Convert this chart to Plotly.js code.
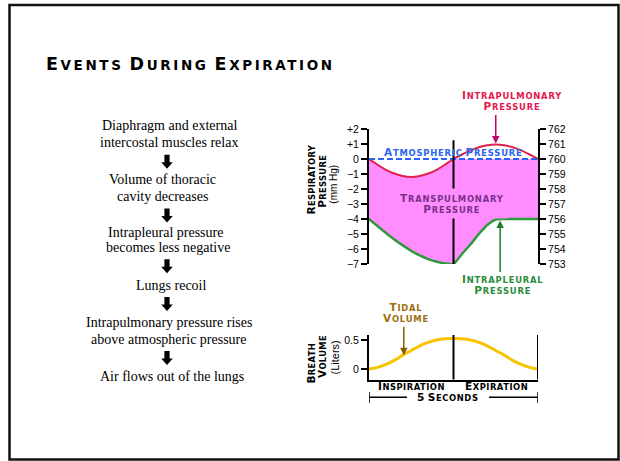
<!DOCTYPE html>
<html><head><meta charset="utf-8">
<script src="https://cdn.plot.ly/plotly-3.0.1.min.js"></script>
<style>html,body{margin:0;padding:0;background:#fff}#chart{width:620px;height:461px}</style>
</head><body><div id="chart"></div>
<script>
// ---------- data ----------
const time = [0,0.25,0.5,0.75,1,1.25,1.5,1.75,2,2.25,2.5,2.75,3,3.25,3.5,3.75,4,4.25,4.5,4.75,5];
const intrapulmonary = [0,-0.37,-0.72,-0.97,-1.14,-1.2,-1.14,-0.97,-0.72,-0.37,0,0.3,0.57,0.78,0.92,0.97,0.92,0.78,0.57,0.3,0];
const intrapleural = [-4,-4.47,-4.93,-5.36,-5.76,-6.12,-6.43,-6.67,-6.85,-6.96,-7,-6.33,-5.7,-5.0,-4.4,-4.03,-4,-4,-4,-4,-4];
const atmosphericTime = [0,5];
const atmospheric = [0,0];
const tidalVolume = [0,0.03,0.08,0.15,0.24,0.32,0.4,0.46,0.5,0.52,0.525,0.52,0.5,0.46,0.4,0.32,0.24,0.15,0.08,0.03,0];
const phaseNames = ['Inspiration','Expiration'];
const phaseBoundary = 2.5;
const cycleEnd = 5;
const pressureTicks = [2,1,0,-1,-2,-3,-4,-5,-6,-7];
const pressureTickText = ['+2','+1','0','\u22121','\u22122','\u22123','\u22124','\u22125','\u22126','\u22127'];
const absoluteTicks = [762,761,760,759,758,757,756,755,754,753];
const volumeTicks = [0,0.5];
const volumeTickText = ['0','0.5'];
const title = 'Events During Expiration';
const steps = [
  ['Diaphragm and external','intercostal muscles relax'],
  ['Volume of thoracic','cavity decreases'],
  ['Intrapleural pressure','becomes less negative'],
  ['Lungs recoil'],
  ['Intrapulmonary pressure rises','above atmospheric pressure'],
  ['Air flows out of the lungs']
];

// ---------- helpers ----------
const W = 620, H = 461;
const px = x => x / W;
const py = y => 1 - y / H;
function sc(str, big, small, ls) {
  return str.split(' ').map(w => {
    let s = `<span style="font-size:${big}px;letter-spacing:${ls}px">${w[0].toUpperCase()}</span>`;
    if (w.length > 1) s += `<span style="font-size:${small}px;letter-spacing:${ls}px">${w.slice(1).toUpperCase()}</span>`;
    return s;
  }).join(' ');
}
const LBL = 'DejaVu Sans';
const annotations = [];
const shapes = [];
function lbl(text, x, y, color, opts) {
  annotations.push(Object.assign({
    xref: 'paper', yref: 'paper', x: px(x), y: py(y), xanchor: 'center', yanchor: 'middle', align: 'center',
    text: text, showarrow: false, font: {family: LBL, size: 8.2, color: color, weight: 'bold'}
  }, opts || {}));
}

// title
lbl(sc(title, 17.5, 13.5, 2.6), 190, 63.5, '#000', {font: {family: 'DejaVu Sans', size: 17.5, color: '#000', weight: 'bold'}});

// left flow text
const lineY = [[125,142.7],[180,196],[232.7,247.7],[285],[322.7,339.3],[376.7]];
const lineX = [[169,169],[162,162],[165,168],[171,171],[168.5,168.5],[172]];
steps.forEach((st, i) => {
  st.forEach((t, j) => {
    lbl(t, lineX[i][j], lineY[i][j], '#000', {font: {family: 'Liberation Serif', size: 14, color: '#000'}});
  });
});
// block arrows between steps
const arrowMid = [161.8, 215.5, 266.3, 304, 358];
arrowMid.forEach(m => {
  const cx = 167, top = m - 7, neck = m + 0.5, tip = m + 7, sw = 2.6, hw = 5.8;
  const pts = [[cx-sw,top],[cx+sw,top],[cx+sw,neck],[cx+hw,neck],[cx,tip],[cx-hw,neck],[cx-sw,neck]];
  shapes.push({type: 'path', xref: 'paper', yref: 'paper', fillcolor: '#000', line: {width: 0},
    path: 'M' + pts.map(p => px(p[0]) + ',' + py(p[1])).join('L') + 'Z'});
});

// border
shapes.push({type: 'rect', xref: 'paper', yref: 'paper', x0: px(9.5), x1: px(618.5), y0: py(459.5), y1: py(5),
  line: {color: '#111', width: 2.5}});

// ---------- traces ----------
const transTop = intrapulmonary.map(v => Math.min(v, 0));
const traces = [
  {x: time, y: transTop, type: 'scatter', mode: 'lines', line: {width: 0, shape: 'spline', smoothing: 0.6}, hoverinfo: 'skip', showlegend: false, xaxis: 'x', yaxis: 'y'},
  {x: time, y: intrapleural, type: 'scatter', mode: 'lines', fill: 'tonexty', fillcolor: '#ff8dff',
   line: {color: '#2f9a3a', width: 2.5, shape: 'spline', smoothing: 0.6}, name: 'Intrapleural', showlegend: false, xaxis: 'x', yaxis: 'y'},
  {x: time, y: intrapulmonary, type: 'scatter', mode: 'lines', line: {color: '#e0204c', width: 2, shape: 'spline', smoothing: 0.6}, name: 'Intrapulmonary', showlegend: false, xaxis: 'x', yaxis: 'y'},
  {x: atmosphericTime, y: atmospheric, type: 'scatter', mode: 'lines', line: {color: '#2a64f0', width: 2, dash: '6px,3px'}, name: 'Atmospheric', showlegend: false, xaxis: 'x', yaxis: 'y'},
  {x: [0], y: [760], type: 'scatter', mode: 'markers', marker: {opacity: 0}, hoverinfo: 'skip', showlegend: false, xaxis: 'x', yaxis: 'y2'},
  {x: time, y: tidalVolume, type: 'scatter', mode: 'lines', line: {color: '#f8c400', width: 3, shape: 'spline', smoothing: 0.6}, name: 'Tidal volume', showlegend: false, xaxis: 'x2', yaxis: 'y3'}
];

// ---------- chart decorations ----------
shapes.push({type: 'line', xref: 'x', yref: 'y', x0: phaseBoundary, x1: phaseBoundary, y0: -7.15, y1: 1.25, line: {color: '#000', width: 2}});
shapes.push({type: 'line', xref: 'x2', yref: 'y3 domain', x0: phaseBoundary, x1: phaseBoundary, y0: 0, y1: 1, line: {color: '#000', width: 2}});
shapes.push({type: 'line', xref: 'x2', yref: 'y3 domain', x0: cycleEnd, x1: cycleEnd, y0: 0, y1: 1, line: {color: '#000', width: 2}});
// 5 seconds bracket (two segments with a gap for the label)
shapes.push({type: 'line', xref: 'paper', yref: 'paper', x0: px(369), x1: px(407), y0: py(397.3), y1: py(397.3), line: {color: '#000', width: 1.5}});
shapes.push({type: 'line', xref: 'paper', yref: 'paper', x0: px(489), x1: px(538), y0: py(397.3), y1: py(397.3), line: {color: '#000', width: 1.5}});
shapes.push({type: 'line', xref: 'x2', yref: 'paper', x0: 0, x1: 0, y0: py(392), y1: py(403), line: {color: '#000', width: 1.5}});
shapes.push({type: 'line', xref: 'x2', yref: 'paper', x0: cycleEnd, x1: cycleEnd, y0: py(392), y1: py(403), line: {color: '#000', width: 1.5}});

// chart labels
const B = 10.5, S = 8.4, LS = 0.8;
const two = (a, b, ls) => sc(a, B, S, ls) + '<br>' + sc(b, B, S, ls);
lbl(two('Intrapulmonary', 'Pressure', LS), 512, 100.5, '#e5174f');
lbl(sc('Atmospheric Pressure', B, S, LS), 453.5, 152, '#2a64f0');
lbl(two('Transpulmonary', 'Pressure', LS), 452, 203.5, '#7a3088', {bgcolor: '#ff8dff', borderpad: 3});
lbl(two('Intrapleural', 'Pressure', LS), 502, 284.3, '#2a8c3a');
lbl(two('Tidal', 'Volume', LS), 406, 312.5, '#9a7010');
lbl(sc(phaseNames[0], B, S, 0.5), 411, 385.5, '#000');
lbl(sc(phaseNames[1], B, S, 0.5), 496.5, 385.5, '#000');
lbl(sc('5 Seconds', B, S, 0.6), 448, 397.3, '#000');
// axis titles (rotated)
lbl(sc('Respiratory', B, S, 0.3), 310.5, 180, '#000', {textangle: -90});
lbl(sc('Pressure', B, S, 0.3), 322, 181.7, '#000', {textangle: -90});
lbl('(mm Hg)', 334, 184.7, '#000', {textangle: -90, font: {family: 'Liberation Sans', size: 10, color: '#000'}});
lbl(sc('Breath', B, S, 0.3), 310.5, 363, '#000', {textangle: -90});
lbl(sc('Volume', B, S, 0.3), 322, 357, '#000', {textangle: -90});
lbl('(Liters)', 334, 357.5, '#000', {textangle: -90, font: {family: 'Liberation Sans', size: 11, color: '#000'}});

// pointer arrows
annotations.push({xref: 'x', yref: 'y', x: 3.75, y: 1.03, ax: 0, ay: -30, text: '', showarrow: true,
  arrowhead: 2, arrowsize: 1, arrowwidth: 1.5, arrowcolor: '#c8006e', standoff: 0});
annotations.push({xref: 'x', yref: 'y', x: 3.88, y: -4.1, ax: 0, ay: 53, text: '', showarrow: true,
  arrowhead: 2, arrowsize: 1, arrowwidth: 1.5, arrowcolor: '#1f7a2a', standoff: 0});
annotations.push({xref: 'x2', yref: 'y3', x: 1.03, y: 0.24, ax: 0, ay: -30, text: '', showarrow: true,
  arrowhead: 2, arrowsize: 1, arrowwidth: 1.5, arrowcolor: '#8b5a00', standoff: 0});

// ---------- layout ----------
const tickFont = {family: 'Liberation Sans', size: 10.5, color: '#000'};
const axisCommon = {showline: true, linecolor: '#000', linewidth: 2, ticks: 'outside', ticklen: 6, tickwidth: 1.5,
  tickcolor: '#000', showgrid: false, zeroline: false, tickfont: tickFont, fixedrange: true};
const layout = {
  width: W, height: H, margin: {l: 0, r: 0, t: 0, b: 0},
  paper_bgcolor: '#fff', plot_bgcolor: 'rgba(0,0,0,0)', showlegend: false,
  xaxis: {domain: [px(369), px(538)], range: [0, cycleEnd], visible: false, anchor: 'y', fixedrange: true},
  yaxis: Object.assign({}, axisCommon, {domain: [py(264), py(129)], range: [-7, 2], anchor: 'x',
    tickmode: 'array', tickvals: pressureTicks, ticktext: pressureTickText}),
  yaxis2: Object.assign({}, axisCommon, {overlaying: 'y', side: 'right', anchor: 'x', range: [753, 762],
    tickmode: 'array', tickvals: absoluteTicks}),
  xaxis2: {domain: [px(369), px(538)], range: [0, cycleEnd], anchor: 'y3', showline: true, linecolor: '#000', linewidth: 2,
    showticklabels: false, ticks: '', showgrid: false, zeroline: false, fixedrange: true},
  yaxis3: Object.assign({}, axisCommon, {domain: [py(379.5), py(335)], range: [-0.178, 0.586], anchor: 'x2',
    tickmode: 'array', tickvals: volumeTicks, ticktext: volumeTickText}),
  shapes: shapes, annotations: annotations
};
Plotly.newPlot('chart', traces, layout, {staticPlot: true, displayModeBar: false});
</script></body></html>
